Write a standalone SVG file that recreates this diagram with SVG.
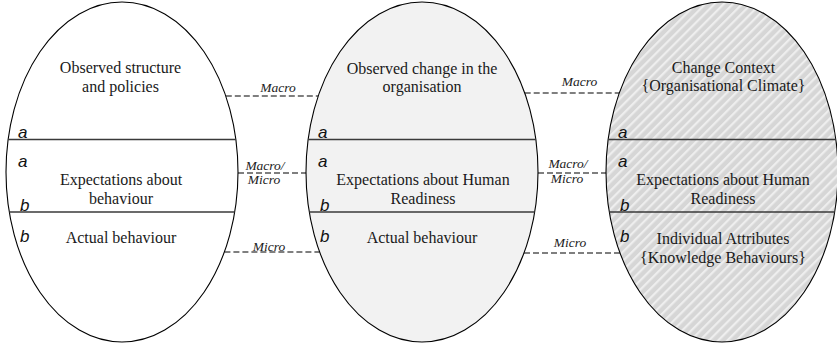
<svg xmlns="http://www.w3.org/2000/svg" width="837" height="344" viewBox="0 0 837 344">
<style>
.ell{stroke:#000;stroke-width:1.1}
.div{stroke:#3a3a3a;stroke-width:1.5}
.t{font-family:"Liberation Serif","Times New Roman",serif;font-size:16px;fill:#1a1a1a;text-anchor:middle}
.lab{font-family:"Liberation Sans",Arial,sans-serif;font-style:italic;font-size:17px;fill:#111}
.cl{font-family:"Liberation Serif","Times New Roman",serif;font-style:italic;font-size:13.5px;fill:#222;text-anchor:middle}
.dash{stroke:#555;stroke-width:1.5;stroke-dasharray:6 3;fill:none}
</style>
<defs>
<pattern id="hatch" patternUnits="userSpaceOnUse" width="6.5" height="6.5" patternTransform="rotate(45)">
<rect width="6.5" height="6.5" fill="#d6d6d6"/>
<rect x="0" y="0" width="2.2" height="6.5" fill="#eeeeee"/>
</pattern>
</defs>
<rect width="837" height="344" fill="#fff"/>
<g id="connectors">
<line class="dash" x1="225.8" y1="96" x2="318.2" y2="96"/>
<line class="dash" x1="238" y1="173" x2="306" y2="173"/>
<line class="dash" x1="224.4" y1="252" x2="319.6" y2="252"/>
<line class="dash" x1="524.7" y1="93" x2="619.3" y2="93"/>
<line class="dash" x1="538" y1="173" x2="606" y2="173"/>
<line class="dash" x1="524" y1="253" x2="620" y2="253"/>
<text class="cl" x="278" y="92">Macro</text>
<text class="cl" x="265" y="169.5">Macro/</text>
<text class="cl" x="264" y="184">Micro</text>
<text class="cl" x="269" y="250.5">Micro</text>
<text class="cl" x="579.5" y="86">Macro</text>
<text class="cl" x="568" y="168">Macro/</text>
<text class="cl" x="567" y="183">Micro</text>
<text class="cl" x="570" y="247">Micro</text>
</g>
<g id="node-structure">
<ellipse class="ell" cx="122" cy="172" rx="116" ry="170" fill="#fff"/>
<line class="div" x1="8.1" y1="139.5" x2="235.9" y2="139.5"/>
<line class="div" x1="9.3" y1="212" x2="234.7" y2="212"/>
<text class="t" x="120.5" y="73">Observed structure</text>
<text class="t" x="120.5" y="92">and policies</text>
<text class="t" x="121" y="185">Expectations about</text>
<text class="t" x="121" y="204">behaviour</text>
<text class="t" x="121" y="243">Actual behaviour</text>
<text class="lab" x="18" y="138">a</text>
<text class="lab" x="18" y="166.5">a</text>
<text class="lab" x="20" y="211">b</text>
<text class="lab" x="20" y="241.5">b</text>
</g>
<g id="node-change">
<ellipse class="ell" cx="422" cy="172" rx="116" ry="170" fill="#f2f2f2"/>
<line class="div" x1="308.1" y1="139.5" x2="535.9" y2="139.5"/>
<line class="div" x1="309.3" y1="212" x2="534.7" y2="212"/>
<text class="t" x="422" y="74">Observed change in the</text>
<text class="t" x="422" y="92">organisation</text>
<text class="t" x="423" y="185">Expectations about Human</text>
<text class="t" x="423" y="204">Readiness</text>
<text class="t" x="422" y="243">Actual behaviour</text>
<text class="lab" x="318" y="138">a</text>
<text class="lab" x="318" y="166.5">a</text>
<text class="lab" x="320" y="211">b</text>
<text class="lab" x="320" y="241.5">b</text>
</g>
<g id="node-context">
<ellipse class="ell" cx="722" cy="172" rx="116" ry="170" fill="url(#hatch)"/>
<line class="div" x1="608.1" y1="139.5" x2="835.9" y2="139.5"/>
<line class="div" x1="609.3" y1="212" x2="834.7" y2="212"/>
<text class="t" x="723.5" y="73">Change Context</text>
<text class="t" x="723.5" y="91">{Organisational Climate}</text>
<text class="t" x="723" y="185">Expectations about Human</text>
<text class="t" x="723" y="204">Readiness</text>
<text class="t" x="723" y="244">Individual Attributes</text>
<text class="t" x="723" y="263">{Knowledge Behaviours}</text>
<text class="lab" x="618" y="138">a</text>
<text class="lab" x="618" y="166.5">a</text>
<text class="lab" x="620" y="211">b</text>
<text class="lab" x="620" y="241.5">b</text>
</g>
</svg>
